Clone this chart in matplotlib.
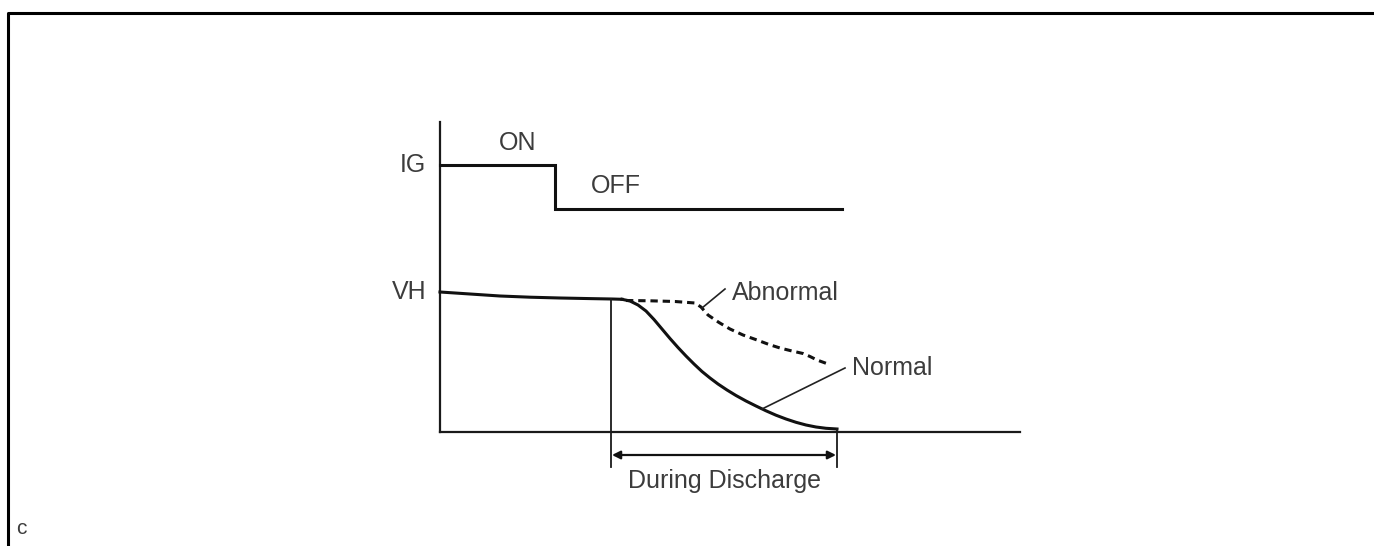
import matplotlib
matplotlib.use("Agg")
import matplotlib.pyplot as plt
import numpy as np

# ---- data (schematic coordinates, x to the right, y downward) ----
ig_x = [440, 555, 555, 842]
ig_y = [165, 165, 209, 209]

vh_flat_x = [440, 470, 500, 530, 560, 590, 612, 622]
vh_flat_y = [292, 294, 296, 297.2, 298, 298.6, 299, 299.3]

normal_x = [622, 630, 638, 646, 654, 662, 670, 678, 686, 694, 702, 710, 718, 727,
            736, 746, 756, 766, 776, 786, 796, 806, 816, 826, 837]
normal_y = [299.3, 301, 305, 311, 319.5, 329, 338.5, 347.5, 356, 364, 371.5, 378, 384, 390,
            395.5, 401, 406, 410.8, 415.2, 419, 422.3, 425, 427, 428.3, 429]

abnormal_x = [626, 650, 675, 695, 701, 708, 719, 730, 743, 757, 769, 780, 792, 803, 810, 817, 828]
abnormal_y = [300.5, 300.8, 301.5, 303, 307, 315, 322.5, 329, 335, 340, 344.5, 348, 351, 353.5, 356.5, 360, 364]

labels = {"IG": (426, 165), "VH": (427, 292)}

fig = plt.figure(figsize=(13.74, 5.46), dpi=100)
ax = fig.add_axes([0, 0, 1, 1])
ax.set_xlim(0, 1374)
ax.set_ylim(546, 0)
ax.axis("off")

fam = ["Liberation Sans", "DejaVu Sans"]
tc = "#3c3c3c"
fs = 18

# outer frame
ax.plot([8, 8, 1374], [546, 12.5, 12.5], color="black", lw=2.2, solid_capstyle="butt")

# axes
ax.plot([440, 440], [122, 432], color="#1a1a1a", lw=1.6)
ax.plot([440, 1020], [432, 432], color="#1a1a1a", lw=1.6)

# IG signal
ax.plot(ig_x, ig_y, color="#111111", lw=2.2, solid_joinstyle="miter")

# VH curves
ax.plot(vh_flat_x, vh_flat_y, color="#111111", lw=2.2)
ax.plot(normal_x, normal_y, color="#111111", lw=2.2, solid_joinstyle="round")
ax.plot(abnormal_x, abnormal_y, color="#111111", lw=2.2, dashes=(2.4, 1.6))

# discharge markers
ax.plot([611, 611], [299, 467], color="#1a1a1a", lw=1.3)
ax.plot([837, 837], [429, 467], color="#1a1a1a", lw=1.3)
ax.annotate("", xy=(612, 455), xytext=(836, 455),
            arrowprops=dict(arrowstyle="<|-|>", color="#111111", lw=1.6,
                            mutation_scale=12, shrinkA=0, shrinkB=0))

# leaders
ax.plot([702, 725], [308, 289], color="#222222", lw=1.2)
ax.plot([762, 845], [409, 368], color="#222222", lw=1.2)

# texts
ax.text(*labels["IG"], "IG", ha="right", va="center", fontsize=fs, family=fam, color=tc)
ax.text(*labels["VH"], "VH", ha="right", va="center", fontsize=fs, family=fam, color=tc)
ax.text(518, 143, "ON", ha="center", va="center", fontsize=fs, family=fam, color=tc)
ax.text(616, 186, "OFF", ha="center", va="center", fontsize=fs, family=fam, color=tc)
ax.text(732, 293, "Abnormal", ha="left", va="center", fontsize=fs, family=fam, color=tc)
ax.text(852, 368, "Normal", ha="left", va="center", fontsize=fs, family=fam, color=tc)
ax.text(725, 481, "During Discharge", ha="center", va="center", fontsize=fs, family=fam, color=tc)
ax.text(21, 528, "c", ha="center", va="center", fontsize=15, family=fam, color=tc)

fig.savefig("out.png", dpi=100)
